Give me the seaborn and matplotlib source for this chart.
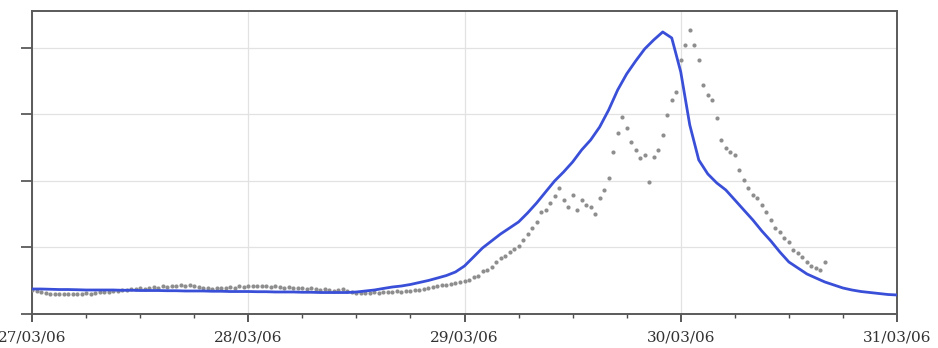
import numpy as np
import pandas as pd
import matplotlib
matplotlib.use("Agg")
import matplotlib.pyplot as plt
import matplotlib.dates as mdates
import seaborn as sns

# Simulated series: hourly values from 27/03/06 00:00 to 31/03/06 00:00
model_start = "2006-03-27 00:00"
model_values = [
    37.6, 37.6, 37.2, 36.8, 36.8, 36.5, 36.1, 36.1, 36.1, 36.1,
    35.7, 35.7, 35.3, 35.3, 35.3, 35.0, 35.0, 34.6, 34.6, 34.6,
    34.2, 34.2, 33.8, 33.8, 33.8, 33.5, 33.5, 33.1, 33.1, 33.1,
    32.7, 32.7, 32.3, 32.3,
    32.3, 32.3, 33.1, 34.6, 36.1, 38.4, 40.6, 42.1, 44.4, 47.4,
    50.4, 54.1, 57.9, 63.2, 72.2, 85.7, 99.3, 109.8, 120.3, 129.3,
    138.4, 151.9, 166.9, 183.5, 200.0, 213.6, 228.6, 246.7, 261.7, 281.2,
    306.8, 336.9, 361.0, 380.5, 398.6, 412.1, 424.1, 415.1, 364.0, 284.3,
    231.6, 210.6, 197.0, 186.5, 171.5, 156.4, 141.4, 124.8, 109.8, 93.2,
    78.2, 69.2, 60.2, 54.1, 48.1, 43.6, 39.1, 36.1, 33.8, 32.3,
    30.8, 29.3, 28.6,
]

# Observed series: half-hourly values from 27/03/06 00:00
obs_start = "2006-03-27 00:00"
obs_values = [
    36.1, 34.6, 33.1, 31.6, 30.8, 30.1, 30.8, 30.1, 30.1, 30.8,
    30.1, 30.8, 31.6, 30.8, 32.3, 33.1, 33.1, 33.8, 34.6, 35.3,
    36.1, 36.8, 37.6, 38.3, 39.1, 38.3, 39.8, 40.6, 39.8, 41.4,
    40.6, 42.1, 41.4, 42.9, 42.1, 43.6, 42.1, 40.6, 39.8, 39.1,
    38.3, 39.1, 39.1, 39.8, 40.6, 39.8, 41.4, 40.6, 42.1, 41.4,
    42.1, 41.4, 42.1, 40.6, 41.4, 40.6, 39.8, 40.6, 39.1, 39.8,
    39.1, 38.3, 39.1, 37.6, 36.8, 37.6, 36.1, 35.3, 36.8, 37.6,
    35.3, 33.8, 32.3, 31.6, 32.3, 31.6, 33.1, 32.3, 33.1, 33.8,
    33.1, 34.6, 33.8, 35.3, 34.6, 36.1, 36.8, 37.6, 39.1, 40.6,
    42.1, 43.6, 42.9, 45.1, 46.6, 47.4, 49.6, 51.1, 55.6, 57.1,
    64.7, 66.2, 70.7, 78.2, 84.2, 87.2, 93.2, 97.7, 102.3, 111.3,
    120.3, 129.3, 138.4, 153.4, 156.4, 166.9, 177.5, 189.5, 171.4, 160.9,
    179.0, 156.4, 171.4, 163.9, 160.9, 150.4, 174.4, 186.5, 204.5, 243.6,
    272.2, 296.2, 279.7, 258.7, 246.6, 234.6, 239.1, 198.5, 236.1, 246.6,
    269.2, 299.3, 321.8, 333.8, 382.0, 404.5, 427.1, 404.5, 382.0, 344.4,
    329.3, 321.8, 294.7, 261.7, 249.6, 243.6, 239.1, 216.5, 201.5, 189.5,
    179.0, 174.4, 163.9, 153.4, 141.4, 129.3, 123.3, 114.3, 108.3, 96.2,
    91.7, 85.7, 78.2, 72.2, 69.2, 66.2, 78.2,
]

x_start = "2006-03-27"
x_end = "2006-03-31"
y_ticks = [0, 100, 200, 300, 400]

model = pd.DataFrame({
    "time": pd.date_range(model_start, periods=len(model_values), freq="h"),
    "value": model_values,
})
obs = pd.DataFrame({
    "time": pd.date_range(obs_start, periods=len(obs_values), freq="30min"),
    "value": obs_values,
})

sns.set_theme(style="white")
fig = plt.figure(figsize=(9.38, 3.48), dpi=100)
ax = fig.add_axes([32 / 938, 1 - 314 / 348, (897 - 32) / 938, (314 - 11) / 348])

sns.scatterplot(data=obs, x="time", y="value", ax=ax, color="#8e8e8e",
                s=9, linewidth=0, zorder=3)
sns.lineplot(data=model, x="time", y="value", ax=ax, color="#3a4fd8",
             linewidth=2.0, zorder=4)

ax.set_xlim(pd.Timestamp(x_start), pd.Timestamp(x_end))
ax.set_ylim(0, 455.6)
ax.set_xlabel("")
ax.set_ylabel("")

ax.xaxis.set_major_locator(mdates.DayLocator())
ax.xaxis.set_minor_locator(mdates.HourLocator(byhour=[6, 12, 18]))
ax.xaxis.set_major_formatter(mdates.DateFormatter("%d/%m/%y"))
ax.set_yticks(y_ticks)
ax.set_yticklabels([])

ax.grid(True, which="major", color="#e2e2e2", linewidth=0.9)
ax.set_axisbelow(True)

for side in ["left", "bottom", "right", "top"]:
    ax.spines[side].set_visible(True)
    ax.spines[side].set_color("#5a5a5a")
    ax.spines[side].set_linewidth(1.4)

ax.tick_params(axis="x", which="major", direction="out", length=6, width=1.3,
               color="#4a4a4a", bottom=True, pad=6)
ax.tick_params(axis="x", which="minor", direction="out", length=3, width=1.0,
               color="#4a4a4a", bottom=True)
ax.tick_params(axis="y", which="major", direction="out", length=8, width=1.3,
               color="#5a5a5a", left=True)
for lbl in ax.get_xticklabels():
    lbl.set_fontfamily("DejaVu Serif")
    lbl.set_fontsize(11)
    lbl.set_color("#333333")

fig.savefig("out.png", dpi=100)
